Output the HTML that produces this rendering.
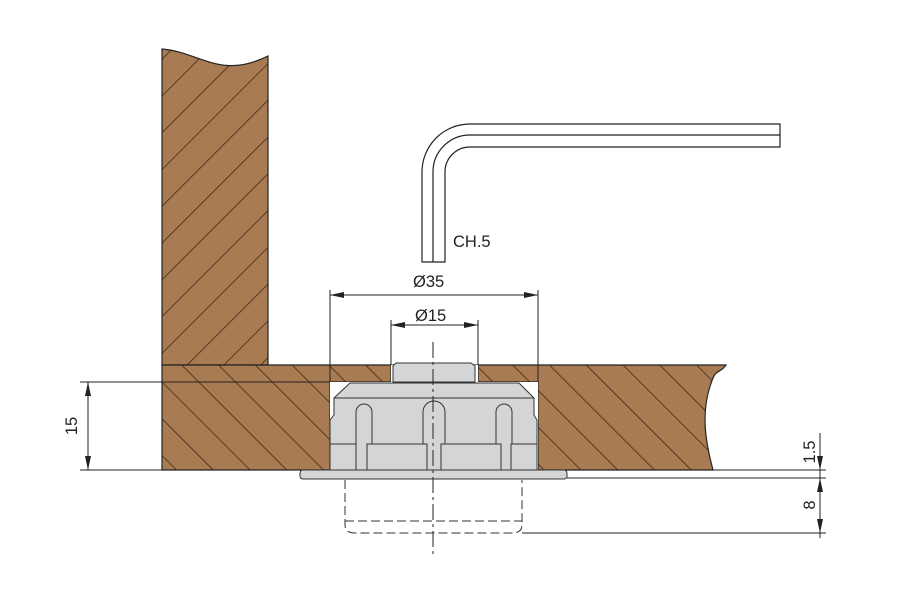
<!DOCTYPE html>
<html><head><meta charset="utf-8"><style>html,body{margin:0;padding:0;background:#fff}svg{display:block}</style></head><body>
<svg width="900" height="600" viewBox="0 0 900 600" xmlns="http://www.w3.org/2000/svg" font-family="Liberation Sans, sans-serif">
<defs>
<pattern id="hA" patternUnits="userSpaceOnUse" width="26" height="26" patternTransform="rotate(45)">
<rect width="26" height="26" fill="#A97B52"/><line x1="0" y1="0" x2="0" y2="26" stroke="#3a2a1c" stroke-width="1.6"/></pattern>
<pattern id="hB" patternUnits="userSpaceOnUse" width="26" height="26" patternTransform="rotate(-45)">
<rect width="26" height="26" fill="#A97B52"/><line x1="0" y1="0" x2="0" y2="26" stroke="#3a2a1c" stroke-width="1.6"/></pattern>
</defs>
<path d="M162,49 C200,52 220,80 268,56 L268,365 L162,365 Z" fill="url(#hA)" stroke="#222" stroke-width="1.2"/>
<path d="M162,365 L726,365 C722,372 716,370 713,378 C700,410 705,440 713,470 L567,470 L538,470 L538,382 L478,382 L478,365 L391,365 L391,382 L330,382 L330,470 L162,470 Z" fill="url(#hB)" stroke="#222" stroke-width="1.2"/>
<rect x="391" y="365" width="87" height="17" fill="#fff"/>
<rect x="330" y="382" width="208" height="88" fill="#fff"/>
<path d="M393,382 L393,366 L396,363 L471,363 L475,366 L475,382 Z" fill="#d4d5d7" stroke="#333" stroke-width="1"/>
<path d="M350,383 L519,383 L534,398 L534,415 L537,420 L537,470 L330,470 L330,420 L334,415 L334,398 Z" fill="#d4d5d7" stroke="#333" stroke-width="1"/>
<line x1="334" y1="398" x2="534" y2="398" stroke="#333"/>
<g fill="none" stroke="#333" stroke-width="1">
<path d="M356,444 L356,412 A8,8 0 0 1 372,412 L372,444"/>
<path d="M423,444 L423,412 A11,11 0 0 1 445,412 L445,444"/>
<path d="M496,444 L496,412 A8,8 0 0 1 512,412 L512,444"/>
<rect x="330" y="444" width="26" height="26"/>
<rect x="367" y="444" width="60" height="26"/>
<rect x="441" y="444" width="60" height="26"/>
<rect x="511" y="444" width="26" height="26"/>
</g>
<rect x="300" y="470" width="267" height="9" rx="3" fill="#d4d5d7" stroke="#333"/>
<path d="M345,480 L345,525 Q345,533 355,533 L512,533 Q522,533 522,525 L522,480" fill="none" stroke="#333" stroke-dasharray="9,4"/>
<line x1="345" y1="521" x2="522" y2="521" stroke="#333" stroke-dasharray="9,4"/>
<line x1="433" y1="342" x2="433" y2="558" stroke="#222" stroke-dasharray="16,4,3,4"/>
<g fill="none" stroke="#222" stroke-width="1.2">
<path d="M422,262 L422,172 A48,48 0 0 1 470,124 L780,124 L780,147 L470,147 A25,25 0 0 0 445,172 L445,262 Z"/>
<path d="M433,262 L433,172 A37,37 0 0 1 470,135 L780,135"/>
</g>
<text x="453" y="247" font-size="16.5" fill="#222">CH.5</text>
<g stroke="#222" stroke-width="1" fill="none">
<line x1="330" y1="290" x2="330" y2="382"/><line x1="538" y1="290" x2="538" y2="382"/>
<line x1="330" y1="295" x2="538" y2="295"/>
<line x1="391" y1="320" x2="391" y2="365"/><line x1="478" y1="320" x2="478" y2="365"/>
<line x1="391" y1="325" x2="478" y2="325"/>
<line x1="80" y1="382" x2="330" y2="382"/><line x1="80" y1="470" x2="162" y2="470"/>
<line x1="88" y1="382" x2="88" y2="470"/>
<line x1="713" y1="470" x2="826" y2="470"/><line x1="567" y1="478" x2="826" y2="478"/>
<line x1="522" y1="533" x2="826" y2="533"/>
<line x1="820" y1="433" x2="820" y2="538"/>
</g>
<g fill="#222">
<path d="M330,295 l14,-3 v6z"/><path d="M538,295 l-14,-3 v6z"/>
<path d="M391,325 l14,-3 v6z"/><path d="M478,325 l-14,-3 v6z"/>
<path d="M88,382 l-3,14 h6z"/><path d="M88,470 l-3,-14 h6z"/>
<path d="M820,470 l-3,-14 h6z"/><path d="M820,478 l-3,14 h6z"/><path d="M820,533 l-3,-14 h6z"/>
</g>
<g font-size="16.5" fill="#222">
<text x="413" y="287">Ø35</text>
<text x="415" y="321">Ø15</text>
<text transform="translate(77,426) rotate(-90)" text-anchor="middle">15</text>
<text transform="translate(815,452) rotate(-90)" text-anchor="middle">1.5</text>
<text transform="translate(815,505) rotate(-90)" text-anchor="middle">8</text>
</g>
</svg>
</body></html>
